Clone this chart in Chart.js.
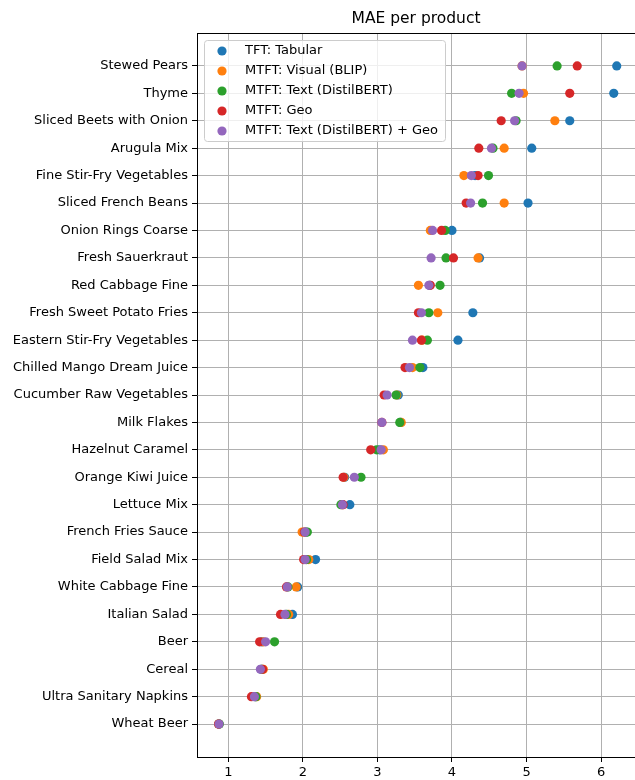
<!DOCTYPE html>
<html>
<head>
<meta charset="utf-8">
<script src="https://cdn.jsdelivr.net/npm/chart.js@4.4.1/dist/chart.umd.min.js"></script>
<style>
  html, body { margin: 0; padding: 0; background: #fff; }
  #wrap { width: 635px; height: 780px; position: relative; }
</style>
</head>
<body>
<div id="wrap"><canvas id="chart"></canvas></div>
<script>
// products, top to bottom
const products = [
  'Stewed Pears', 'Thyme', 'Sliced Beets with Onion', 'Arugula Mix',
  'Fine Stir-Fry Vegetables', 'Sliced French Beans', 'Onion Rings Coarse',
  'Fresh Sauerkraut', 'Red Cabbage Fine', 'Fresh Sweet Potato Fries',
  'Eastern Stir-Fry Vegetables', 'Chilled Mango Dream Juice',
  'Cucumber Raw Vegetables', 'Milk Flakes', 'Hazelnut Caramel',
  'Orange Kiwi Juice', 'Lettuce Mix', 'French Fries Sauce', 'Field Salad Mix',
  'White Cabbage Fine', 'Italian Salad', 'Beer', 'Cereal',
  'Ultra Sanitary Napkins', 'Wheat Beer'
]

// MAE per model, same order as products
const tftTabular = [6.21, 6.17, 5.58, 5.07, 4.31, 5.02, 4.00, 4.37, 3.70, 4.28, 4.08, 3.61, 3.28, 3.31, 3.03, 2.56, 2.63, 2.04, 2.17, 1.93, 1.86, 1.45, 1.44, 1.36, 0.87]
const visualBlip = [4.94, 4.96, 5.38, 4.70, 4.16, 4.70, 3.71, 4.35, 3.55, 3.81, 3.60, 3.47, 3.26, 3.32, 3.08, 2.55, 2.53, 1.99, 2.08, 1.91, 1.81, 1.47, 1.47, 1.38, 0.87]
const textBert = [5.41, 4.80, 4.86, 4.55, 4.49, 4.41, 3.91, 3.92, 3.84, 3.69, 3.67, 3.57, 3.25, 3.30, 2.99, 2.78, 2.51, 2.06, 2.05, 1.80, 1.78, 1.62, 1.45, 1.37, 0.88]
const geo = [5.68, 5.58, 4.66, 4.36, 4.35, 4.19, 3.86, 4.02, 3.71, 3.55, 3.59, 3.37, 3.09, 3.06, 2.91, 2.54, 2.54, 2.02, 2.01, 1.78, 1.70, 1.42, 1.46, 1.31, 0.87]
const textGeo = [4.94, 4.90, 4.84, 4.53, 4.26, 4.25, 3.74, 3.72, 3.69, 3.59, 3.47, 3.43, 3.13, 3.06, 3.05, 2.69, 2.53, 2.03, 2.03, 1.79, 1.76, 1.50, 1.43, 1.35, 0.875]

const seriesNames = ['TFT: Tabular', 'MTFT: Visual (BLIP)', 'MTFT: Text (DistilBERT)', 'MTFT: Geo', 'MTFT: Text (DistilBERT) + Geo']
const seriesValues = [tftTabular, visualBlip, textBert, geo, textGeo]
const seriesColors = ['#1f77b4', '#ff7f0e', '#2ca02c', '#d62728', '#9467bd']
const xTicks = [1, 2, 3, 4, 5, 6]

const FONT = 'DejaVu Sans'

// later series are drawn on top, like matplotlib
const datasets = seriesNames.map((name, s) => ({
  label: name,
  data: seriesValues[s].map((v, i) => ({ x: v, y: i })),
  backgroundColor: seriesColors[s],
  borderWidth: 0,
  pointRadius: 4.6,
  pointHoverRadius: 4.6,
  order: seriesNames.length - s,
}))

// top spine (the right one falls outside the picture)
const framePlugin = {
  id: 'frame',
  afterDatasetsDraw(chart) {
    const { ctx, chartArea: a } = chart
    ctx.save()
    ctx.strokeStyle = '#000'
    ctx.lineWidth = 1
    ctx.beginPath()
    ctx.moveTo(a.left, a.top + 0.5)
    ctx.lineTo(a.right, a.top + 0.5)
    ctx.stroke()
    ctx.restore()
  },
}

// matplotlib style legend in the upper left of the plot
const boxLegend = {
  id: 'boxLegend',
  afterDraw(chart) {
    const { ctx } = chart
    const x = 204, y = 40, w = 241, h = 101
    ctx.save()
    ctx.beginPath()
    ctx.roundRect(x + 0.5, y + 0.5, w, h, 3)
    ctx.fillStyle = 'rgba(255,255,255,0.8)'
    ctx.fill()
    ctx.strokeStyle = '#cccccc'
    ctx.lineWidth = 1
    ctx.stroke()
    ctx.font = '13px "' + FONT + '"'
    ctx.textBaseline = 'middle'
    chart.data.datasets.forEach((ds, i) => {
      const cy = y + 11 + i * 20
      ctx.beginPath()
      ctx.arc(x + 18, cy, 4.6, 0, Math.PI * 2)
      ctx.fillStyle = ds.backgroundColor
      ctx.fill()
      ctx.fillStyle = '#000'
      ctx.fillText(ds.label, x + 41, cy)
    })
    ctx.restore()
  },
}

new Chart(document.getElementById('chart'), {
  type: 'scatter',
  data: { datasets },
  options: {
    responsive: true,
    maintainAspectRatio: false,
    animation: false,
    layout: { padding: 0, autoPadding: false },
    plugins: {
      legend: { display: false },
      tooltip: { enabled: false },
      title: {
        display: true,
        text: 'MAE per product',
        fullSize: false,
        color: '#000',
        font: { family: FONT, size: 15.5, weight: 'normal', lineHeight: '18px' },
        padding: { top: 10, bottom: 5 },
      },
    },
    scales: {
      x: {
        type: 'linear',
        min: 0.58,
        max: 6.455,
        afterBuildTicks: (axis) => { axis.ticks = xTicks.map((v) => ({ value: v })) },
        afterFit: (axis) => {
          axis.height = 23
          axis.paddingLeft = 0
          axis.paddingRight = 0
        },
        ticks: { color: '#000', font: { family: FONT, size: 13 }, padding: 3, maxRotation: 0 },
        grid: { color: '#b0b0b0', lineWidth: 1, tickColor: '#000', tickLength: 5 },
        border: { color: '#000', width: 1 },
      },
      y: {
        type: 'linear',
        reverse: true,
        min: -1.2,
        max: products.length - 1 + 1.2,
        afterBuildTicks: (axis) => { axis.ticks = products.map((_, i) => ({ value: i })) },
        afterFit: (axis) => {
          axis.width = 197
          axis.paddingTop = 0
          axis.paddingBottom = 0
        },
        ticks: {
          color: '#000',
          font: { family: FONT, size: 13 },
          padding: 4,
          autoSkip: false,
          callback: (v) => products[v],
        },
        grid: { color: '#b0b0b0', lineWidth: 1, tickColor: '#000', tickLength: 5 },
        border: { color: '#000', width: 1 },
      },
    },
  },
  plugins: [framePlugin, boxLegend],
})
</script>
</body>
</html>
